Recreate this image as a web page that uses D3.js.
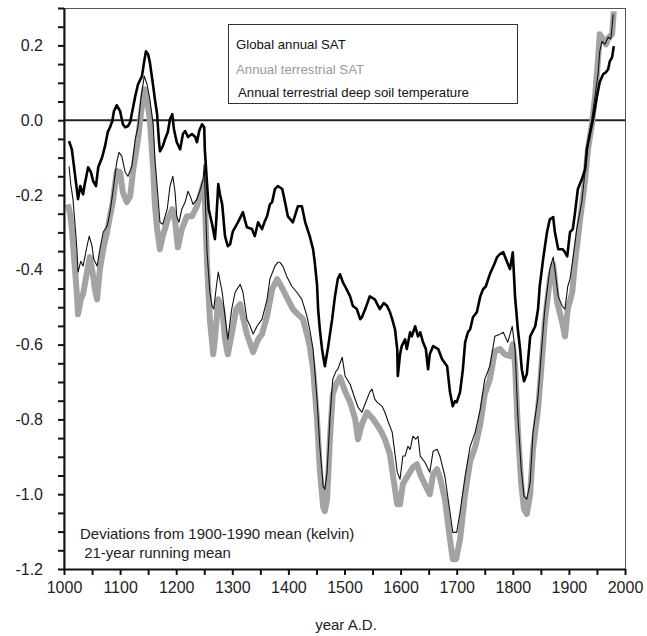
<!DOCTYPE html>
<html>
<head>
<meta charset="utf-8">
<script src="https://cdn.jsdelivr.net/npm/d3@7"></script>
<style>
  html, body { margin: 0; padding: 0; background: #fff; }
  svg { display: block; font-family: "Liberation Sans", Arial, sans-serif; }
</style>
</head>
<body>
<svg id="chart" width="647" height="636"></svg>
<script>
// Global annual surface air temperature (21-year running mean, K vs 1900-1990)
const globalYears = [1009,1014,1020,1025,1029,1034,1037,1043,1048,1052,1057,1061,1068,1073,1078,1082,1086,1089,1094,1100,1105,1109,1114,1118,1127,1132,1139,1143,1146,1150,1153,1159,1162,1166,1169,1171,1176,1180,1185,1189,1193,1196,1201,1207,1212,1216,1221,1228,1234,1237,1241,1246,1250,1251,1255,1258,1264,1269,1271,1275,1278,1282,1287,1292,1296,1301,1310,1319,1323,1326,1335,1340,1346,1353,1358,1362,1367,1371,1376,1381,1389,1394,1399,1408,1417,1424,1430,1438,1444,1447,1451,1453,1456,1460,1462,1465,1471,1478,1483,1488,1492,1497,1501,1510,1515,1522,1528,1531,1537,1545,1554,1563,1570,1576,1581,1585,1590,1594,1595,1599,1602,1608,1611,1617,1620,1626,1631,1635,1640,1645,1649,1652,1658,1667,1674,1683,1688,1693,1697,1700,1706,1711,1715,1720,1724,1729,1736,1742,1747,1752,1759,1767,1772,1777,1783,1790,1795,1800,1804,1809,1813,1816,1820,1825,1831,1840,1845,1848,1854,1861,1866,1872,1875,1881,1889,1893,1897,1902,1907,1911,1916,1923,1929,1932,1938,1943,1950,1955,1961,1966,1970,1973,1977,1980];
const globalValues = [-0.056,-0.078,-0.150,-0.211,-0.176,-0.198,-0.171,-0.126,-0.139,-0.163,-0.176,-0.126,-0.099,-0.070,-0.032,-0.019,-0.003,0.024,0.040,0.024,-0.011,-0.019,-0.016,-0.005,0.064,0.096,0.118,0.158,0.184,0.176,0.155,0.091,0.056,0.016,-0.051,-0.083,-0.070,-0.051,-0.032,0.003,0.016,-0.024,-0.059,-0.078,-0.037,-0.029,-0.045,-0.037,-0.045,-0.059,-0.029,-0.011,-0.019,-0.078,-0.171,-0.238,-0.278,-0.318,-0.278,-0.171,-0.198,-0.225,-0.310,-0.337,-0.332,-0.297,-0.273,-0.246,-0.270,-0.286,-0.291,-0.310,-0.273,-0.291,-0.270,-0.257,-0.225,-0.219,-0.184,-0.176,-0.184,-0.219,-0.257,-0.273,-0.230,-0.230,-0.273,-0.310,-0.345,-0.380,-0.439,-0.505,-0.559,-0.612,-0.631,-0.658,-0.604,-0.532,-0.471,-0.425,-0.412,-0.433,-0.444,-0.471,-0.497,-0.505,-0.532,-0.527,-0.505,-0.471,-0.479,-0.505,-0.489,-0.497,-0.513,-0.532,-0.559,-0.612,-0.684,-0.626,-0.604,-0.586,-0.612,-0.567,-0.578,-0.551,-0.578,-0.567,-0.594,-0.612,-0.666,-0.626,-0.604,-0.612,-0.639,-0.658,-0.727,-0.765,-0.751,-0.754,-0.727,-0.666,-0.594,-0.567,-0.559,-0.527,-0.513,-0.471,-0.452,-0.444,-0.412,-0.385,-0.366,-0.358,-0.353,-0.380,-0.398,-0.353,-0.471,-0.559,-0.612,-0.666,-0.698,-0.679,-0.578,-0.551,-0.505,-0.444,-0.372,-0.299,-0.265,-0.259,-0.299,-0.345,-0.345,-0.353,-0.364,-0.299,-0.291,-0.246,-0.184,-0.158,-0.131,-0.078,-0.032,0.003,0.064,0.102,0.123,0.128,0.136,0.158,0.168,0.198];

// Annual terrestrial surface air temperature
const landYears = [1007,1011,1014,1020,1023,1025,1030,1034,1041,1046,1052,1055,1059,1064,1070,1077,1082,1087,1094,1100,1105,1112,1118,1123,1132,1137,1143,1148,1153,1159,1162,1166,1171,1176,1185,1193,1198,1203,1210,1219,1228,1237,1246,1250,1251,1255,1260,1266,1269,1275,1282,1287,1292,1299,1307,1314,1319,1326,1337,1346,1353,1362,1371,1380,1390,1399,1408,1417,1426,1433,1438,1444,1451,1456,1462,1465,1469,1474,1479,1485,1492,1501,1510,1519,1524,1531,1540,1551,1563,1572,1581,1590,1594,1599,1604,1611,1622,1629,1635,1643,1652,1658,1665,1670,1679,1688,1693,1699,1706,1715,1724,1733,1742,1750,1759,1768,1777,1786,1795,1800,1804,1809,1815,1820,1825,1831,1836,1845,1850,1857,1866,1872,1879,1888,1893,1898,1906,1911,1920,1929,1934,1941,1947,1952,1955,1961,1966,1971,1977,1980];
const landValues = [-0.225,-0.251,-0.291,-0.406,-0.465,-0.519,-0.479,-0.465,-0.406,-0.366,-0.417,-0.452,-0.479,-0.398,-0.345,-0.297,-0.257,-0.219,-0.136,-0.139,-0.193,-0.219,-0.203,-0.136,-0.051,0.016,0.083,0.056,0.003,-0.131,-0.225,-0.291,-0.345,-0.310,-0.265,-0.238,-0.270,-0.340,-0.291,-0.257,-0.257,-0.230,-0.184,-0.163,-0.211,-0.385,-0.532,-0.626,-0.586,-0.479,-0.505,-0.586,-0.626,-0.572,-0.505,-0.492,-0.527,-0.572,-0.620,-0.586,-0.572,-0.524,-0.452,-0.425,-0.452,-0.479,-0.505,-0.519,-0.532,-0.572,-0.604,-0.666,-0.799,-0.933,-1.035,-1.045,-1.013,-0.853,-0.733,-0.706,-0.687,-0.725,-0.754,-0.799,-0.853,-0.813,-0.781,-0.799,-0.826,-0.853,-0.893,-0.987,-1.027,-1.027,-0.973,-0.955,-0.928,-0.920,-0.947,-0.973,-1.000,-0.947,-0.933,-0.955,-1.013,-1.120,-1.174,-1.174,-1.120,-1.000,-0.912,-0.874,-0.813,-0.733,-0.693,-0.618,-0.612,-0.626,-0.631,-0.599,-0.652,-0.826,-0.973,-1.040,-1.053,-1.000,-0.880,-0.773,-0.679,-0.540,-0.425,-0.385,-0.487,-0.540,-0.578,-0.505,-0.460,-0.380,-0.265,-0.158,-0.078,-0.011,0.070,0.163,0.230,0.217,0.203,0.222,0.230,0.291];

// Annual terrestrial deep soil temperature
const soilYears = [1009,1012,1016,1020,1023,1025,1030,1034,1041,1045,1050,1053,1059,1064,1070,1077,1082,1087,1094,1098,1103,1109,1114,1121,1127,1132,1137,1143,1148,1153,1159,1162,1166,1171,1176,1184,1189,1194,1198,1201,1205,1210,1216,1221,1225,1230,1237,1242,1248,1250,1251,1255,1260,1264,1267,1271,1275,1282,1287,1292,1299,1305,1314,1319,1326,1332,1337,1344,1353,1362,1367,1376,1381,1385,1390,1397,1406,1415,1424,1433,1438,1444,1451,1456,1462,1465,1469,1474,1479,1485,1488,1496,1501,1510,1519,1524,1531,1540,1545,1549,1554,1558,1567,1572,1578,1585,1590,1594,1599,1604,1608,1613,1617,1622,1627,1631,1635,1643,1652,1658,1665,1670,1679,1688,1693,1700,1706,1715,1724,1733,1742,1750,1759,1768,1777,1783,1791,1799,1804,1809,1815,1820,1825,1831,1836,1845,1850,1857,1866,1872,1875,1881,1888,1893,1898,1902,1907,1914,1923,1929,1934,1941,1947,1952,1955,1959,1964,1970,1975,1979];
const soilValues = [-0.123,-0.171,-0.211,-0.286,-0.345,-0.406,-0.377,-0.390,-0.337,-0.310,-0.337,-0.372,-0.390,-0.345,-0.299,-0.283,-0.246,-0.193,-0.112,-0.086,-0.096,-0.139,-0.150,-0.123,-0.051,-0.016,0.056,0.118,0.096,0.056,-0.011,-0.104,-0.176,-0.273,-0.278,-0.238,-0.176,-0.150,-0.193,-0.257,-0.273,-0.238,-0.219,-0.190,-0.203,-0.225,-0.211,-0.190,-0.158,-0.118,-0.171,-0.353,-0.460,-0.497,-0.505,-0.452,-0.406,-0.460,-0.524,-0.586,-0.505,-0.460,-0.439,-0.460,-0.532,-0.551,-0.572,-0.551,-0.532,-0.479,-0.425,-0.390,-0.380,-0.380,-0.390,-0.417,-0.444,-0.460,-0.479,-0.524,-0.559,-0.612,-0.746,-0.872,-0.979,-0.987,-0.941,-0.799,-0.693,-0.671,-0.666,-0.634,-0.684,-0.706,-0.746,-0.767,-0.781,-0.746,-0.727,-0.719,-0.746,-0.754,-0.765,-0.781,-0.807,-0.834,-0.893,-0.941,-0.960,-0.898,-0.898,-0.872,-0.880,-0.845,-0.853,-0.845,-0.898,-0.914,-0.941,-0.885,-0.880,-0.898,-0.952,-1.048,-1.102,-1.102,-1.048,-0.952,-0.872,-0.834,-0.773,-0.693,-0.658,-0.578,-0.572,-0.567,-0.594,-0.551,-0.612,-0.791,-0.933,-1.005,-1.013,-0.968,-0.834,-0.738,-0.639,-0.505,-0.398,-0.366,-0.398,-0.471,-0.497,-0.505,-0.444,-0.425,-0.372,-0.291,-0.219,-0.131,-0.064,0.003,0.070,0.123,0.184,0.211,0.203,0.222,0.217,0.283];

// Axis ticks and labels
const xTickValues = d3.range(1000, 2001, 50);
const xTickLabels = ["1000","1100","1200","1300","1400","1500","1600","1700","1800","1900","2000"];
const yTickValues = d3.range(-1.2, 0.3001, 0.05).map(v => +v.toFixed(2));
const yTickLabels = ["-1.2","-1.0","-0.8","-0.6","-0.4","-0.2","0.0","0.2"];

const legendLabels = ["Global annual SAT", "Annual terrestrial SAT", "Annual terrestrial deep soil temperature"];
const noteLines = ["Deviations from 1900-1990 mean (kelvin)", " 21-year running mean"];
const xAxisTitle = "year A.D.";

(function draw() {
  const svg = d3.select("#chart");
  const plotLeft = 64, plotRight = 625, plotTop = 8, plotBottom = 569;

  const x = d3.scaleLinear().domain([1000, 2000]).range([plotLeft, plotRight]);
  const y = d3.scaleLinear().domain([-1.2, 0.3]).range([plotBottom, plotTop]);

  // Plot frame (top and right sides)
  svg.append("rect")
    .attr("x", plotLeft).attr("y", plotTop + 0.5)
    .attr("width", plotRight - plotLeft + 0.5).attr("height", plotBottom - plotTop)
    .attr("fill", "none").attr("stroke", "#555").attr("stroke-width", 1);

  svg.append("clipPath").attr("id", "plotClip")
    .append("rect").attr("x", plotLeft).attr("y", plotTop)
    .attr("width", plotRight - plotLeft).attr("height", plotBottom - plotTop);

  const toPoints = (yrs, vals) => yrs.map((yr, i) => [yr, vals[i]]);
  const line = d3.line().x(d => x(d[0])).y(d => y(d[1]));

  const plot = svg.append("g").attr("clip-path", "url(#plotClip)");

  // Zero reference line
  plot.append("line")
    .attr("x1", plotLeft).attr("x2", plotRight)
    .attr("y1", y(0)).attr("y2", y(0))
    .attr("stroke", "#222").attr("stroke-width", 2);

  plot.append("path")
    .datum(toPoints(landYears, landValues))
    .attr("d", line)
    .attr("fill", "none").attr("stroke", "#a3a3a3")
    .attr("stroke-width", 6).attr("stroke-linejoin", "round");

  plot.append("path")
    .datum(toPoints(soilYears, soilValues))
    .attr("d", line)
    .attr("fill", "none").attr("stroke", "#111")
    .attr("stroke-width", 1.1).attr("stroke-linejoin", "round");

  plot.append("path")
    .datum(toPoints(globalYears, globalValues))
    .attr("d", line)
    .attr("fill", "none").attr("stroke", "#000")
    .attr("stroke-width", 2.6).attr("stroke-linejoin", "round");

  // Axes
  const xAxis = d3.axisBottom(x)
    .tickValues(xTickValues)
    .tickSize(6)
    .tickSizeOuter(0)
    .tickFormat(d => (d % 100 === 0) ? xTickLabels[(d - 1000) / 100] : "");

  const gx = svg.append("g").attr("transform", `translate(0,${plotBottom})`).call(xAxis);
  gx.select(".domain").attr("stroke", "#111").attr("stroke-width", 2);
  gx.selectAll(".tick line").attr("stroke", "#111").attr("stroke-width", 2);
  gx.selectAll(".tick text")
    .attr("font-family", "'Liberation Sans', Arial, sans-serif")
    .attr("font-size", 16).attr("fill", "#222").attr("dy", "0.95em");

  const yAxis = d3.axisLeft(y)
    .tickValues(yTickValues)
    .tickSize(6)
    .tickSizeOuter(0)
    .tickFormat(d => {
      const k = Math.round((d + 1.2) / 0.2 * 1000) / 1000;
      return Number.isInteger(k) && k < yTickLabels.length ? yTickLabels[k] : "";
    });

  const gy = svg.append("g").attr("transform", `translate(${plotLeft},0)`).call(yAxis);
  gy.select(".domain").attr("stroke", "#111").attr("stroke-width", 2);
  gy.selectAll(".tick line").attr("stroke", "#111").attr("stroke-width", 2);
  gy.selectAll(".tick text")
    .attr("font-family", "'Liberation Sans', Arial, sans-serif")
    .attr("font-size", 16).attr("fill", "#222").attr("x", -21);

  svg.append("text")
    .attr("x", 346).attr("y", 630)
    .attr("text-anchor", "middle")
    .attr("font-size", 15).attr("fill", "#222")
    .text(xAxisTitle);

  // Legend
  const legend = svg.append("g");
  legend.append("rect")
    .attr("x", 228.5).attr("y", 24.5).attr("width", 289).attr("height", 79)
    .attr("fill", "#fff").attr("stroke", "#333").attr("stroke-width", 1);
  const legendColors = ["#111", "#9a9a9a", "#111"];
  const legendX = [236, 236, 238];
  const legendY = [49, 74, 97];
  legendLabels.forEach((t, i) => {
    legend.append("text")
      .attr("x", legendX[i]).attr("y", legendY[i])
      .attr("font-size", 13.2).attr("fill", legendColors[i])
      .text(t);
  });

  // Notes
  noteLines.forEach((t, i) => {
    svg.append("text")
      .attr("x", 80).attr("y", 539 + i * 19)
      .attr("font-size", 15).attr("fill", "#222")
      .style("white-space", "pre")
      .text(t);
  });
})();
</script>
</body>
</html>
